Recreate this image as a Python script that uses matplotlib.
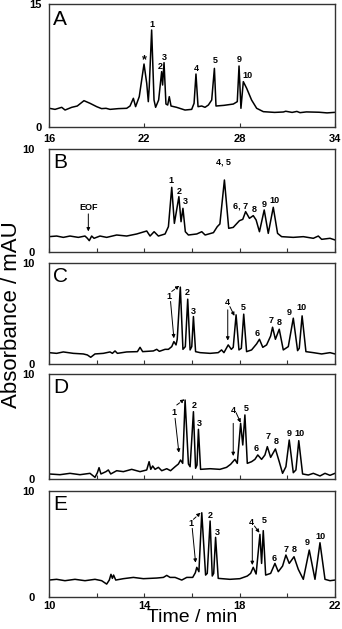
import matplotlib
matplotlib.use("Agg")
import matplotlib.pyplot as plt
from matplotlib.ticker import FixedLocator

plt.rcParams['font.family'] = ['Liberation Sans', 'DejaVu Sans']

# ---- trace data (time / min, absorbance / mAU) ----
tA = [16.02, 16.38, 16.80, 17.01, 17.43, 17.78, 18.20, 18.58, 19.00, 19.31, 19.59, 19.84,
      20.36, 20.89, 21.10, 21.31, 21.45, 21.68, 21.98, 22.15, 22.25, 22.31, 22.46, 22.61,
      22.71, 22.90, 23.09, 23.15, 23.24, 23.36, 23.47, 23.57, 23.68, 24.03, 24.56, 24.98,
      25.13, 25.25, 25.38, 25.61, 25.82, 26.03, 26.24, 26.41, 26.51, 27.01, 27.60, 27.85,
      27.96, 28.08, 28.23, 28.44, 28.75, 29.07, 29.49, 30.20, 30.75, 30.90, 31.30, 31.60,
      31.80, 32.20, 33.00, 33.50, 33.95]
yA = [2.28, 2.15, 2.40, 2.07, 2.40, 2.56, 3.21, 2.89, 2.48, 2.24, 2.28, 2.15,
      2.24, 2.28, 2.56, 3.50, 2.48, 3.70, 7.68, 5.33, 3.09, 4.92, 11.83, 3.29,
      2.40, 3.29, 6.75, 5.12, 7.85, 2.80, 2.68, 3.70, 2.56, 2.40, 2.07, 2.15,
      2.89, 6.46, 2.48, 2.56, 2.40, 2.68, 3.29, 7.15, 2.56, 2.64, 2.80, 3.09,
      7.44, 2.28, 5.53, 4.72, 3.29, 2.28, 1.87, 1.78, 1.83, 1.92, 1.78, 1.90,
      1.75, 1.84, 1.80, 1.72, 1.78]

tB = [10.00, 10.32, 10.60, 10.88, 11.23, 11.51, 11.61, 11.69, 11.79, 11.89, 12.14, 12.42,
      12.84, 13.26, 13.68, 14.10, 14.24, 14.41, 14.59, 14.87, 15.01, 15.15, 15.26, 15.45,
      15.54, 15.62, 15.72, 15.85, 16.20, 16.41, 16.55, 16.90, 17.06, 17.17, 17.36, 17.54,
      17.73, 17.99, 18.13, 18.25, 18.41, 18.57, 18.69, 18.83, 19.03, 19.20, 19.41, 19.59,
      19.76, 20.25, 20.67, 21.09, 21.30, 21.44, 21.79, 22.00]
yB = [1.49, 1.55, 1.42, 1.55, 1.42, 1.55, 1.33, 1.10, 1.55, 1.33, 1.55, 1.42,
      1.65, 1.55, 1.75, 2.04, 1.55, 1.97, 1.55, 1.75, 2.46, 6.28, 2.78, 5.37,
      2.94, 4.24, 1.97, 1.65, 1.75, 1.97, 1.65, 1.88, 2.46, 2.72, 6.99, 2.30,
      2.39, 3.04, 3.17, 3.92, 3.27, 3.53, 3.11, 1.97, 4.08, 1.81, 4.34, 1.81,
      1.49, 1.42, 1.49, 1.33, 1.55, 1.23, 1.33, 1.17]

tC = [10.00, 10.32, 10.60, 11.02, 11.44, 11.61, 11.75, 11.93, 12.28, 12.56, 12.66, 12.77,
      12.87, 13.26, 13.71, 13.82, 13.93, 14.38, 14.52, 14.63, 14.87, 15.01, 15.15, 15.24,
      15.33, 15.38, 15.51, 15.62, 15.72, 15.82, 15.92, 15.99, 16.06, 16.15, 16.34, 16.76,
      17.10, 17.24, 17.34, 17.52, 17.65, 17.73, 17.85, 17.97, 18.07, 18.17, 18.29, 18.50,
      18.71, 18.83, 18.97, 19.13, 19.30, 19.38, 19.50, 19.66, 19.83, 20.04, 20.25, 20.43,
      20.50, 20.62, 20.78, 21.09, 21.44, 21.79, 22.00]
yC = [1.08, 1.01, 1.15, 1.01, 0.95, 0.85, 0.62, 0.95, 1.01, 1.15, 1.01, 1.25,
      1.01, 1.15, 1.18, 1.61, 1.18, 1.25, 1.41, 1.21, 1.41, 1.41, 1.68, 2.18,
      1.85, 2.41, 7.60, 1.41, 1.68, 6.40, 1.35, 1.68, 4.67, 1.18, 1.08, 1.01,
      1.08, 1.35, 1.08, 1.85, 1.41, 1.61, 4.84, 1.35, 1.51, 4.91, 1.18, 1.35,
      1.95, 2.41, 1.61, 1.85, 2.74, 3.61, 2.41, 3.41, 1.35, 1.68, 4.51, 1.28,
      1.51, 4.74, 1.18, 1.08, 0.95, 1.08, 0.95]

tD = [10.00, 10.46, 10.88, 11.30, 11.72, 11.93, 12.03, 12.10, 12.18, 12.39, 12.49, 12.59,
      12.84, 13.12, 13.47, 13.82, 14.10, 14.20, 14.27, 14.35, 14.45, 14.59, 14.73, 14.94,
      15.10, 15.29, 15.43, 15.52, 15.61, 15.71, 15.85, 15.92, 16.06, 16.15, 16.21, 16.27,
      16.36, 16.76, 17.17, 17.45, 17.62, 17.80, 17.90, 18.04, 18.13, 18.22, 18.32, 18.50,
      18.64, 18.76, 18.92, 19.06, 19.16, 19.30, 19.50, 19.66, 19.80, 19.94, 20.08, 20.25,
      20.36, 20.48, 20.64, 20.88, 21.09, 21.37, 21.58, 21.79, 22.00]
yD = [0.48, 0.41, 0.54, 0.41, 0.54, 0.16, 0.60, 1.08, 0.48, 0.70, 0.86, 0.48,
      0.79, 0.70, 0.92, 0.70, 0.86, 1.65, 0.92, 1.24, 0.92, 1.11, 0.79, 0.98,
      0.79, 1.17, 1.43, 1.81, 1.49, 7.52, 1.43, 1.17, 6.41, 1.02, 1.33, 4.73,
      0.92, 0.98, 0.92, 1.11, 1.40, 1.87, 1.49, 5.30, 3.24, 6.10, 1.49, 1.65,
      1.87, 2.29, 1.87, 2.29, 3.08, 2.06, 2.86, 1.65, 0.54, 1.17, 3.71, 0.60,
      0.86, 3.65, 0.48, 0.38, 0.54, 0.29, 0.54, 0.35, 0.54]

tE = [10.00, 10.32, 10.67, 11.09, 11.51, 11.93, 12.21, 12.42, 12.53, 12.60, 12.66, 12.71,
      12.80, 13.12, 13.54, 13.96, 14.52, 14.80, 14.94, 15.08, 15.29, 15.57, 15.78, 16.03,
      16.14, 16.20, 16.29, 16.41, 16.57, 16.64, 16.76, 16.85, 16.91, 16.99, 17.10, 17.59,
      18.01, 18.32, 18.46, 18.57, 18.69, 18.85, 18.92, 18.99, 19.09, 19.30, 19.48, 19.62,
      19.80, 19.94, 20.08, 20.28, 20.46, 20.67, 20.92, 21.16, 21.37, 21.58, 21.79, 22.00]
yE = [1.57, 1.64, 1.51, 1.64, 1.51, 1.64, 1.51, 1.19, 1.57, 2.11, 1.73, 2.04,
      1.57, 1.70, 1.82, 1.70, 1.76, 1.82, 2.01, 1.82, 1.82, 1.57, 1.82, 1.82,
      2.26, 2.77, 2.36, 7.92, 2.04, 2.20, 7.14, 1.95, 2.20, 5.60, 1.73, 1.64,
      1.70, 1.95, 2.20, 2.77, 2.14, 5.88, 3.14, 6.23, 2.04, 2.20, 3.14, 2.36,
      2.89, 3.93, 3.14, 3.77, 2.58, 1.64, 4.40, 1.64, 5.09, 1.64, 1.51, 1.57]

# ---- peak labels (text, time, absorbance) ----
labA = [("*", 21.98, 8.1), ("1", 22.46, 12.56), ("2", 23.03, 7.36), ("3", 23.28, 8.50),
        ("4", 25.25, 7.15), ("5", 26.45, 8.05), ("9", 27.98, 8.25), ("10", 28.50, 6.22)]
labB = [("1", 15.10, 6.99), ("2", 15.45, 5.92), ("3", 15.71, 4.89), ("4, 5", 17.34, 8.71),
        ("6, 7", 18.04, 4.47), ("8", 18.60, 4.17), ("9", 19.03, 4.66), ("10", 19.44, 4.98),
        ("EOF", 11.65, 4.34)]
labC = [("1", 15.03, 6.67), ("2", 15.82, 7.07), ("3", 16.06, 5.17), ("4", 17.50, 6.07),
        ("5", 18.15, 5.61), ("6", 18.74, 2.94), ("7", 19.34, 4.24), ("8", 19.64, 4.08),
        ("9", 20.08, 5.07), ("10", 20.60, 5.61)]
labD = [("1", 15.24, 6.32), ("2", 16.08, 6.98), ("3", 16.29, 5.30), ("4", 17.73, 6.57),
        ("5", 18.27, 6.73), ("6", 18.69, 2.92), ("7", 19.20, 4.03), ("8", 19.52, 3.56),
        ("9", 20.06, 4.35), ("10", 20.50, 4.35)]
labE = [("1", 15.94, 6.92), ("2", 16.78, 7.70), ("3", 17.06, 6.04), ("4", 18.50, 6.98),
        ("5", 19.03, 7.17), ("6", 19.44, 3.62), ("7", 19.94, 4.50), ("8", 20.28, 4.50),
        ("9", 20.84, 5.13), ("10", 21.40, 5.72)]

# ---- arrows: (start time, start abs, end time, end abs, dashed?) ----
arrB = [(11.65, 3.7, 11.65, 2.0, False)]
arrC = [(15.10, 6.17, 15.24, 2.51, False), (15.15, 7.17, 15.47, 7.73, True),
        (17.50, 5.34, 17.50, 2.28, False), (17.59, 5.66, 17.78, 4.74, False)]
arrD = [(15.29, 5.78, 15.45, 2.51, False), (15.36, 7.05, 15.68, 7.59, True),
        (17.73, 5.30, 17.73, 2.19, False), (17.85, 6.32, 18.04, 5.37, False)]
arrE = [(16.01, 6.45, 16.15, 3.21, False), (16.06, 7.30, 16.36, 7.92, True),
        (18.53, 6.45, 18.53, 2.99, False), (18.62, 6.67, 18.83, 6.04, False)]

panels = [
    ("A", tA, yA, labA, [], (16, 34), 15, [16, 22, 28, 34], []),
    ("B", tB, yB, labB, arrB, (10, 22), 10, [10, 14, 18, 22], [12, 16, 20]),
    ("C", tC, yC, labC, arrC, (10, 22), 10, [10, 14, 18, 22], [12, 16, 20]),
    ("D", tD, yD, labD, arrD, (10, 22), 10, [10, 14, 18, 22], [12, 16, 20]),
    ("E", tE, yE, labE, arrE, (10, 22), 10, [10, 14, 18, 22], [12, 16, 20]),
]

# axes boxes in pixels (top, bottom) of a 342x629 figure
W, H = 342, 629
boxes = [(4, 127), (149, 252), (263, 363.5), (374, 479), (490.7, 596.7)]

fig = plt.figure(figsize=(3.42, 6.29), dpi=100)

for i, (name, t, y, labs, arrs, xl, ytop, xmaj, xmin) in enumerate(panels):
    top, bot = boxes[i]
    ax = fig.add_axes([49 / W, 1 - bot / H, (335 - 49) / W, (bot - top) / H])
    ax.plot(t, y, color='black', lw=1.1)
    ax.set_xlim(*xl)
    ax.set_ylim(0, ytop)
    for s in ax.spines.values():
        s.set_color('#333333')
        s.set_linewidth(1.0)
    ax.xaxis.set_major_locator(FixedLocator(xmaj))
    ax.xaxis.set_minor_locator(FixedLocator(xmin))
    ax.tick_params(axis='x', which='both', direction='in', length=3, width=0.8,
                   color='#333333', labelsize=8, pad=5 if name == "A" else 3)
    ax.set_yticks([0, ytop])
    ax.tick_params(axis='y', length=0, labelsize=8, pad=5 if name == "A" else 10)
    for lab in ax.get_yticklabels() + ax.get_xticklabels():
        lab.set_fontweight('bold')
    if name not in ("A", "E"):
        ax.set_xticklabels([])
    ax.text(0.015, 0.87, name, transform=ax.transAxes, fontsize=15,
            ha='left', va='center')
    for txt, tx, ty in labs:
        ax.text(tx, ty, txt, fontsize=9 if txt == "*" else 6.5,
                fontweight='bold', ha='center', va='center')
    for x0, y0, x1, y1, dashed in arrs:
        ax.annotate("", xy=(x1, y1), xytext=(x0, y0),
                    arrowprops=dict(arrowstyle='-|>', color='black', lw=0.7,
                                    ls='--' if dashed else '-',
                                    mutation_scale=5, shrinkA=0, shrinkB=0))

fig.text(12 / W, 1 - 315 / H, "Absorbance / mAU", rotation=90, fontsize=16,
         ha='center', va='center')
fig.text(192 / W, 1 - 617 / H, "Time / min", fontsize=14,
         ha='center', va='center')

fig.savefig("out.png", dpi=100)
